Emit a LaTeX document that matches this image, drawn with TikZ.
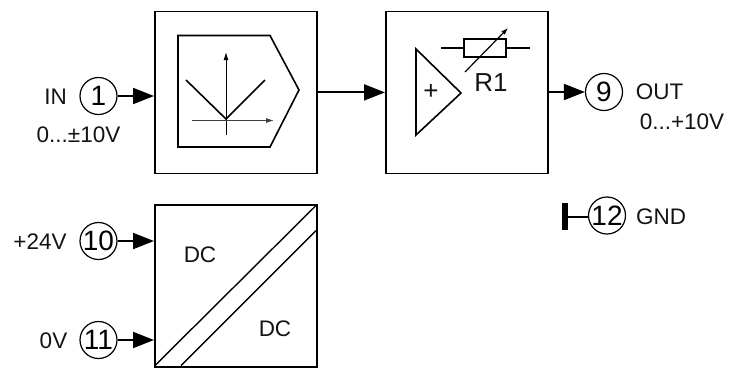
\documentclass[tikz,border=0pt]{standalone}
\usepackage{fontspec}
\setmainfont{Liberation Sans}
\usetikzlibrary{arrows.meta}
\tikzset{
  blockbox/.style={draw=black,line width=1.8pt,minimum width=162pt,minimum height=162pt,inner sep=0pt,anchor=north west},
  term/.style={draw=black,line width=1.2pt,circle,minimum size=37pt,inner sep=0pt,font=\fontsize{28}{28}\selectfont},
  lab/.style={font=\fontsize{22.5}{23}\selectfont,text=black!92,inner sep=0pt},
  conn/.style={line width=2pt,-{Triangle[length=21pt,width=16pt]},shorten >=0pt},
  thin symbol/.style={line width=1.6pt,line join=miter},
  axis/.style={line width=1pt,-{Latex[length=8pt,width=5pt]}}
}
\begin{document}
\begin{tikzpicture}[x=1pt,y=-1pt]
\useasboundingbox[fill=white] (0,0) rectangle (731,368);
% blocks
\node[blockbox] (b1) at (154,10.5) {};
\node[blockbox] (b2) at (385,10.5) {};
\node[blockbox] (b3) at (154,204) {};
% terminals
\node[term] (t1) at (98.5,96) {1};
\node[term] (t9) at (604,92) {9};
\node[term] (t10) at (98.5,241) {10};
\node[term] (t11) at (98.5,340) {11};
\node[term] (t12) at (607,215.5) {12};
% labels
\node[lab,anchor=center] (lin) at (55.5,97) {IN};
\node[lab,anchor=center] (lr1) at (78.5,134.5) {0...±10V};
\node[lab,anchor=center] (lout) at (659.5,92) {OUT};
\node[lab,anchor=center] (lr2) at (682,122) {0...+10V};
\node[lab,anchor=center] (lgnd) at (661,217) {GND};
\node[lab,anchor=center] (l24) at (40,242) {+24V};
\node[lab,anchor=center] (l0) at (53.5,341) {0V};
\node[lab,anchor=center] (dc1) at (200,255) {DC};
\node[lab,anchor=center] (dc2) at (275,329) {DC};
\node[lab,anchor=center,font=\fontsize{26}{26}\selectfont] (r1) at (491,83) {R1};
\node[lab,anchor=center,font=\fontsize{26}{26}\selectfont] (plus) at (431,92) {+};
% connectors
\draw[conn] (t1.east) -- (t1.east -| b1.west);
\draw[conn] (t10.east) -- (t10.east -| b3.west);
\draw[conn] (t11.east) -- (t11.east -| b3.west);
\draw[conn] (b1.east |- b2.east) -- (b2.west);
\draw[conn] (b2.east |- t9.west) -- (t9.west);
% GND
\coordinate (gbar) at (565,217);
\draw[line width=1.6pt] (gbar) -- (t12.west |- gbar);
\draw[line width=6pt] (565,203) -- (565,230);
% rectifier symbol
\draw[thin symbol] (178,35.5) -- (270,35.5) -- (299,90) -- (270,147) -- (178,147) -- cycle;
\draw[axis] (226,135) -- (226,52);
\draw[axis,line width=0.9pt,draw=black!75] (192,120.5) -- (274,120.5);
\draw[thin symbol] (186,80) -- (226,119) -- (265,80);
% amplifier
\draw[thin symbol] (416,49) -- (461,93) -- (416,135) -- cycle;
% variable resistor
\draw[line width=1.2pt] (441,48) -- (464,48);
\draw[line width=1.2pt] (506,48) -- (530,48);
\draw[thin symbol] (464,39) rectangle (506,57);
\draw[line width=1.2pt,-{Latex[length=7pt,width=5pt]}] (465,72) -- (508,28);
% DC/DC diagonals
\draw[line width=1.4pt] (155.5,365) -- (316,205.5);
\draw[line width=1.4pt] (181,365.5) -- (316,230.5);
\end{tikzpicture}
\end{document}
